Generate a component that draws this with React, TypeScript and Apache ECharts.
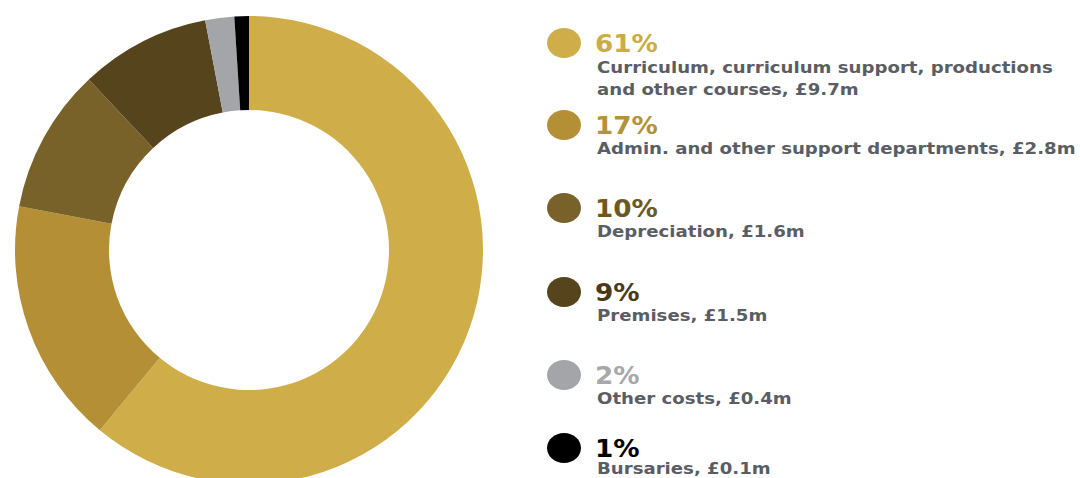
import React, { useEffect, useRef } from "react";
import * as echarts from "echarts";

const categories = [
  "Curriculum, curriculum support, productions\nand other courses",
  "Admin. and other support departments",
  "Depreciation",
  "Premises",
  "Other costs",
  "Bursaries",
];
const percents = [61, 17, 10, 9, 2, 1];
const amounts = [9.7, 2.8, 1.6, 1.5, 0.4, 0.1];
const sliceColors = ["#cfae4a", "#b58f35", "#78622a", "#56441c", "#a3a5a8", "#000000"];
const pctColors = ["#cbac45", "#b4923a", "#6c5922", "#4a3a18", "#a6a8ab", "#000000"];

const rowY = [43, 125, 208, 292, 375, 448];
const FONT = "'DejaVu Sans', sans-serif";

export default function App() {
  const ref = useRef<HTMLDivElement>(null);
  useEffect(() => {
    if (!ref.current) return;
    const chart = echarts.init(ref.current, null, { renderer: "svg" });
    const graphics: any[] = [];
    categories.forEach((name, i) => {
      const y = rowY[i];
      const last = i === categories.length - 1;
      graphics.push({
        type: "ellipse",
        shape: { cx: 564, cy: y, rx: 17, ry: 15 },
        style: { fill: sliceColors[i] },
      });
      graphics.push({
        type: "text",
        x: 595,
        y: y,
        scaleX: 1.05,
        style: {
          text: `${percents[i]}%`,
          fill: pctColors[i],
          font: `bold 25px ${FONT}`,
          verticalAlign: "middle",
        },
      });
      graphics.push({
        type: "text",
        x: 597,
        y: y + (i === 0 ? 14 : last ? 13 : 16),
        scaleX: 1.21,
        style: {
          text: `${name}, £${amounts[i]}m`,
          fill: "#5a5d64",
          font: `bold 15px ${FONT}`,
          lineHeight: i === 0 ? 22 : 17,
          verticalAlign: "top",
        },
      });
    });
    chart.setOption({
      animation: false,
      backgroundColor: "#ffffff",
      series: [
        {
          type: "pie",
          center: [249, 250],
          radius: [140, 234],
          startAngle: 90,
          clockwise: true,
          label: { show: false },
          labelLine: { show: false },
          silent: true,
          data: categories.map((n, i) => ({
            name: n,
            value: percents[i],
            itemStyle: { color: sliceColors[i] },
          })),
        },
      ],
      graphic: graphics,
    });
    return () => chart.dispose();
  }, []);
  return (
    <div
      ref={ref}
      style={{ position: "fixed", left: 0, top: 0, width: 1080, height: 478 }}
    />
  );
}
